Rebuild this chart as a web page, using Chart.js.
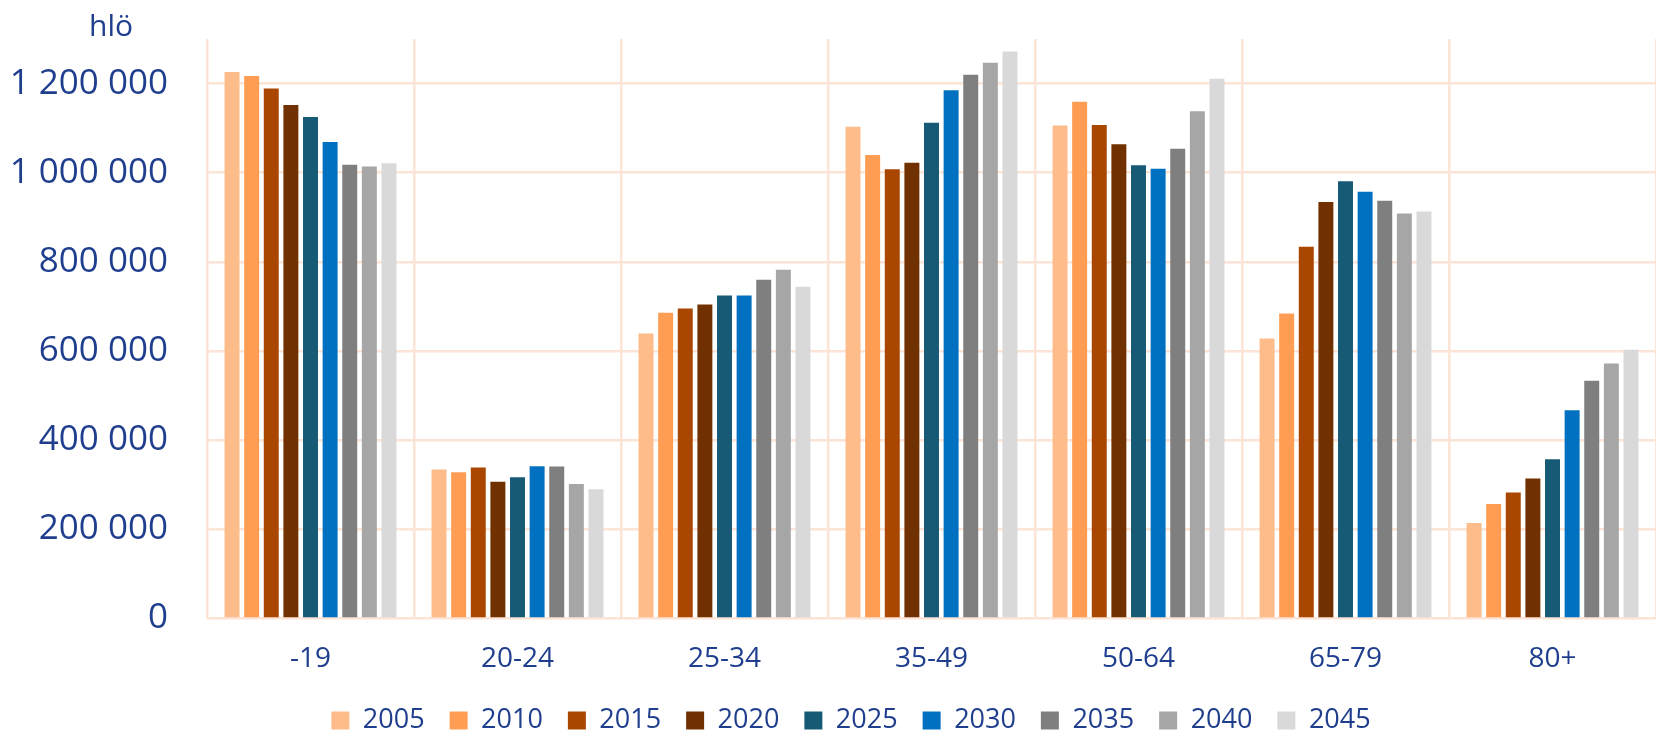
<!DOCTYPE html>
<html>
<head>
<meta charset="utf-8">
<script src="https://cdn.jsdelivr.net/npm/chart.js@4"></script>
<style>
  html, body { margin: 0; padding: 0; background: #fff; overflow: hidden; }
</style>
</head>
<body>
<canvas id="popChart" width="1656" height="733"></canvas>
<script>
// Age groups and years
const ageGroups = ['-19', '20-24', '25-34', '35-49', '50-64', '65-79', '80+'];
const years = ['2005', '2010', '2015', '2020', '2025', '2030', '2035', '2040', '2045'];

// Population per age group, one array per year
const pop2005 = [1226000, 334000, 639500, 1103000, 1106000, 628000, 214000];
const pop2010 = [1217000, 328000, 686000, 1040000, 1159000, 684000, 257000];
const pop2015 = [1189000, 338600, 695500, 1007600, 1107000, 834000, 282600];
const pop2020 = [1152000, 307000, 704500, 1022600, 1064000, 934500, 314000];
const pop2025 = [1125000, 317000, 724600, 1112000, 1017000, 980700, 357000];
const pop2030 = [1069000, 341600, 724600, 1185000, 1009000, 957600, 467000];
const pop2035 = [1018000, 341000, 759800, 1219700, 1054000, 937400, 533500];
const pop2040 = [1014000, 302000, 782200, 1246600, 1138000, 908300, 572000];
const pop2045 = [1021000, 290000, 744000, 1272000, 1211000, 912800, 603000];

const yTicks = [0, 200000, 400000, 600000, 800000, 1000000, 1200000];
const yMax = 1300000;
const unitLabel = 'hlö';

const seriesValues = [pop2005, pop2010, pop2015, pop2020, pop2025, pop2030, pop2035, pop2040, pop2045];
const colors = ['#FFBC8B', '#FF9D55', '#A94600', '#713000', '#175A75', '#0070C0', '#7F7F7F', '#A6A6A6', '#D9D9D9'];

const textColor = '#1F3E8E';
const gridColor = '#FCE4D6';
const fontFamily = '"Open Sans", sans-serif';

function formatNum(v) {
    return String(v).replace(/\B(?=(\d{3})+(?!\d))/g, ' ');
}

// unit label above the y axis
const unitLabelPlugin = {
    id: 'unitLabel',
    afterDraw(chart) {
        const ctx = chart.ctx;
        ctx.save();
        ctx.font = '30px ' + fontFamily;
        ctx.fillStyle = textColor;
        ctx.textAlign = 'center';
        ctx.textBaseline = 'alphabetic';
        ctx.fillText(unitLabel, 111, 36);
        ctx.restore();
    }
};

// nudge legend to the right a bit
const legendShift = {
    id: 'legendShift',
    afterLayout(chart) {
        if (chart.legend) {
            chart.legend.left += 21;
            chart.legend.right += 21;
        }
    }
};

new Chart(document.getElementById('popChart'), {
    type: 'bar',
    data: {
        labels: ageGroups,
        datasets: years.map((y, i) => ({
            label: y,
            data: seriesValues[i],
            backgroundColor: colors[i],
            borderWidth: 0
        }))
    },
    options: {
        responsive: false,
        animation: false,
        devicePixelRatio: 1,
        categoryPercentage: 0.853,
        barPercentage: 0.763,
        layout: {
            padding: { top: 39, left: 0, right: -4, bottom: -11 }
        },
        scales: {
            x: {
                grid: {
                    color: gridColor,
                    lineWidth: 2.5,
                    drawTicks: false,
                    offset: true
                },
                border: { display: false },
                ticks: {
                    color: textColor,
                    font: { family: fontFamily, size: 28 },
                    padding: 24,
                    maxRotation: 0
                },
                afterFit(scale) {
                    scale.height = 63.5;
                }
            },
            y: {
                min: 0,
                max: yMax,
                grid: {
                    color: gridColor,
                    lineWidth: 2.5,
                    drawTicks: false
                },
                border: { display: false },
                ticks: {
                    color: textColor,
                    font: { family: fontFamily, size: 35 },
                    padding: 39,
                    callback: value => formatNum(value)
                },
                afterBuildTicks(scale) {
                    scale.ticks = yTicks.map(v => ({ value: v }));
                },
                afterFit(scale) {
                    scale.width = 207;
                    scale.paddingTop = 0;
                    scale.paddingBottom = 0;
                }
            }
        },
        plugins: {
            legend: {
                position: 'bottom',
                labels: {
                    color: textColor,
                    font: { family: fontFamily, size: 27 },
                    boxWidth: 18,
                    boxHeight: 18,
                    padding: 25
                }
            },
            tooltip: { enabled: false }
        }
    },
    plugins: [unitLabelPlugin, legendShift]
});
</script>
</body>
</html>
